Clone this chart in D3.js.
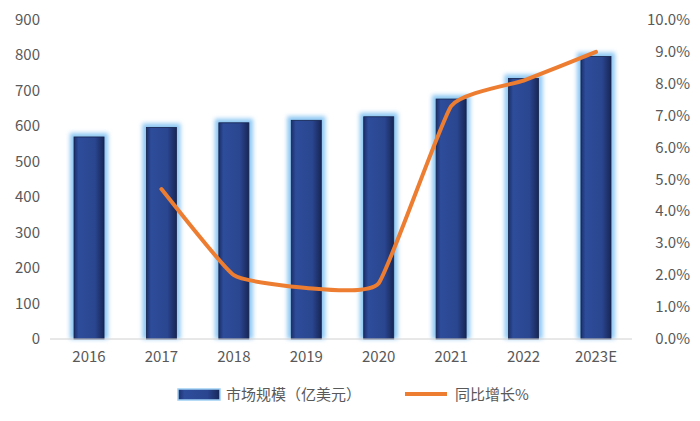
<!DOCTYPE html>
<html><head><meta charset="utf-8">
<script src="https://d3js.org/d3.v7.min.js"></script>
<style>body{margin:0;background:#fff}</style></head>
<body><svg id="c" width="700" height="421"></svg>
<script>
var years = ["2016","2017","2018","2019","2020","2021","2022","2023E"];
var market = [570, 597, 610, 617, 627, 677, 735, 797];
var growth = [null, 4.7, 2.0, 1.6, 1.75, 7.3, 8.1, 9.0];
var leftTicks = [0,100,200,300,400,500,600,700,800,900];
var rightTicks = [0,1,2,3,4,5,6,7,8,9,10];

var svg = d3.select("#c");
var font = "'Noto Sans CJK SC', 'Noto Sans', sans-serif";
var x = d3.scaleBand().domain(years).range([53, 632]).paddingInner(0.585).paddingOuter(0.29);
var y = d3.scaleLinear().domain([0, 900]).range([339, 20]);
var y2 = d3.scaleLinear().domain([0, 10]).range([339, 20]);

var defs = svg.append("defs");
var g = defs.append("linearGradient").attr("id", "bar");
g.append("stop").attr("offset", "0").attr("stop-color", "#1c2f6b");
g.append("stop").attr("offset", "0.15").attr("stop-color", "#2d4c9a");
g.append("stop").attr("offset", "0.7").attr("stop-color", "#2a4690");
g.append("stop").attr("offset", "1").attr("stop-color", "#172656");
defs.append("filter").attr("id", "glow").attr("x", "-50%").attr("y", "-10%").attr("width", "200%").attr("height", "120%")
  .append("feGaussianBlur").attr("stdDeviation", 2);

svg.selectAll("text.l").data(leftTicks).join("text")
  .attr("x", 40).attr("y", d => y(d) + 5).attr("text-anchor", "end")
  .attr("font-family", font).attr("font-size", 15).attr("fill", "#595959").text(d => d);
svg.selectAll("text.r").data(rightTicks).join("text")
  .attr("x", 690).attr("y", d => y2(d) + 5).attr("text-anchor", "end")
  .attr("font-family", font).attr("font-size", 15).attr("fill", "#595959").text(d => d.toFixed(1) + "%");

svg.selectAll("rect.glow").data(market).join("rect")
  .attr("x", (d, i) => x(years[i]) - 4).attr("y", d => y(d) - 4)
  .attr("width", x.bandwidth() + 8).attr("height", d => 339 - y(d) + 4)
  .attr("fill", "#8ec8f3").attr("filter", "url(#glow)");
svg.selectAll("rect.bar").data(market).join("rect")
  .attr("x", (d, i) => x(years[i])).attr("y", d => y(d))
  .attr("width", x.bandwidth()).attr("height", d => 339 - y(d))
  .attr("fill", "url(#bar)").attr("stroke", "#15224d").attr("stroke-width", 0.8);

svg.append("line").attr("x1", 50).attr("x2", 632).attr("y1", 339).attr("y2", 339)
  .attr("stroke", "#d0d0d0").attr("stroke-width", 1);

svg.selectAll("text.x").data(years).join("text")
  .attr("x", d => x(d) + x.bandwidth() / 2).attr("y", 362).attr("text-anchor", "middle")
  .attr("font-family", font).attr("font-size", 15).attr("fill", "#595959").text(d => d);

var pts = years.map((d, i) => [d, growth[i]]).filter(p => p[1] != null);
var line = d3.line().x(p => x(p[0]) + x.bandwidth() / 2).y(p => y2(p[1])).curve(d3.curveCardinal.tension(0.6));
svg.append("path").attr("d", line(pts)).attr("fill", "none")
  .attr("stroke", "#ed7d31").attr("stroke-width", 4).attr("stroke-linecap", "round");

// legend
svg.append("rect").attr("x", 178).attr("y", 389).attr("width", 42).attr("height", 11)
  .attr("fill", "url(#bar)").attr("stroke", "#9fd0f5").attr("stroke-width", 1.5);
svg.append("text").attr("x", 226).attr("y", 400).attr("font-family", font).attr("font-size", 15)
  .attr("fill", "#595959").text("市场规模（亿美元）");
svg.append("line").attr("x1", 405).attr("x2", 447).attr("y1", 394).attr("y2", 394)
  .attr("stroke", "#ed7d31").attr("stroke-width", 4);
svg.append("text").attr("x", 455).attr("y", 400).attr("font-family", font).attr("font-size", 15)
  .attr("fill", "#595959").text("同比增长%");
</script></body></html>
